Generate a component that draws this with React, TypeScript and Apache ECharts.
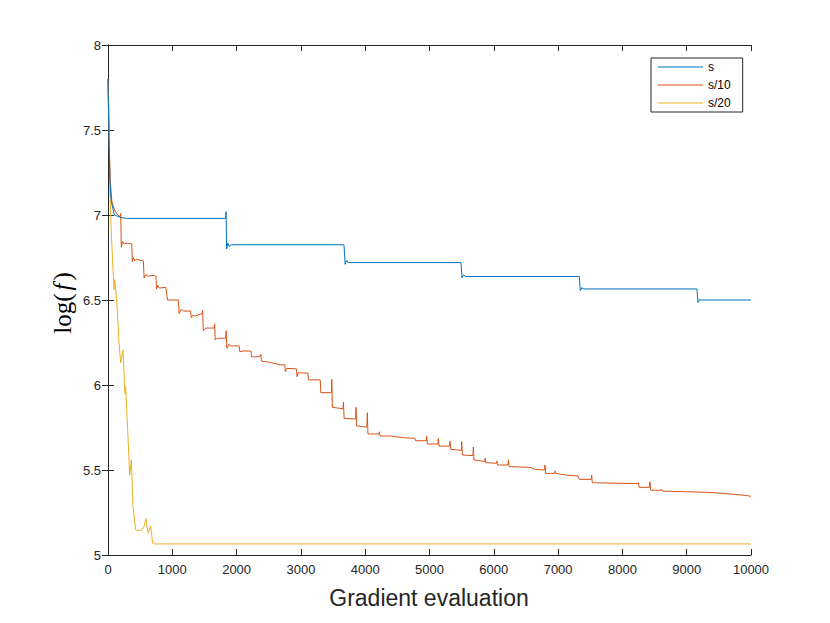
import React, { useEffect, useRef } from "react";
import * as echarts from "echarts";

const seriesNames = ["s", "s/10", "s/20"];
const colors = ["#0072BD", "#D95319", "#EDB120"];

const xTicks = { min: 0, max: 10000, interval: 1000 };
const yTicks = { min: 5, max: 8, interval: 0.5 };

const sData: number[][] = [
  [0, 7.8], [15, 7.45], [30, 7.2], [50, 7.08], [100, 7.0], [200, 6.985], [300, 6.98],
  [1830, 6.98], [1836, 7.02], [1845, 6.8], [1865, 6.835], [1885, 6.815], [1915, 6.825],
  [3670, 6.825], [3688, 6.71], [3710, 6.735], [3735, 6.72], [5490, 6.72], [5505, 6.63],
  [5530, 6.648], [5560, 6.638], [7330, 6.638], [7345, 6.555], [7370, 6.572], [7400, 6.565],
  [9160, 6.565], [9175, 6.485], [9200, 6.503], [9230, 6.5], [10000, 6.5],
];

const s10Data: number[][] = [
  [0, 7.8], [15, 7.45], [35, 7.2], [60, 7.08], [100, 7.03], [150, 7.0], [190, 6.99],
  [198, 7.01], [207, 6.81], [225, 6.845], [250, 6.83], [300, 6.835], [370, 6.83],
  [378, 6.725], [395, 6.75], [415, 6.73], [440, 6.74], [550, 6.73], [562, 6.63],
  [590, 6.65], [620, 6.64], [700, 6.645], [745, 6.64], [755, 6.565], [775, 6.585],
  [800, 6.57], [900, 6.575], [925, 6.5], [1095, 6.5], [1105, 6.42], [1140, 6.445],
  [1180, 6.435], [1285, 6.435], [1296, 6.395], [1320, 6.41], [1350, 6.405], [1465, 6.42],
  [1472, 6.44], [1482, 6.32], [1520, 6.335], [1650, 6.335], [1658, 6.36], [1668, 6.265],
  [1700, 6.275], [1830, 6.275], [1838, 6.32], [1848, 6.216], [1880, 6.24], [1910, 6.23],
  [2040, 6.23], [2050, 6.196], [2100, 6.2], [2225, 6.2], [2232, 6.166], [2300, 6.165],
  [2370, 6.17], [2378, 6.18], [2385, 6.14], [2500, 6.135], [2680, 6.118], [2750, 6.12],
  [2758, 6.078], [2780, 6.098], [2930, 6.095], [2940, 6.049], [2960, 6.072], [3110, 6.07],
  [3118, 6.03], [3300, 6.03], [3310, 5.955], [3475, 5.955], [3480, 6.033], [3490, 5.869],
  [3655, 5.86], [3662, 5.9], [3672, 5.804], [3850, 5.8], [3857, 5.869], [3867, 5.759],
  [4025, 5.752], [4033, 5.837], [4043, 5.712], [4215, 5.712], [4222, 5.725], [4232, 5.7],
  [4390, 5.7], [4595, 5.69], [4775, 5.686], [4785, 5.672], [4950, 5.672], [4956, 5.7],
  [4966, 5.653], [5130, 5.653], [5137, 5.685], [5147, 5.641], [5310, 5.64], [5319, 5.67],
  [5330, 5.622], [5495, 5.615], [5500, 5.667], [5512, 5.588], [5676, 5.585], [5682, 5.635],
  [5692, 5.559], [5860, 5.55], [5866, 5.57], [5875, 5.543], [6040, 5.54], [6048, 5.553],
  [6058, 5.529], [6222, 5.53], [6228, 5.56], [6238, 5.52], [6580, 5.515], [6620, 5.505],
  [6790, 5.5], [6796, 5.53], [6806, 5.48], [6950, 5.48], [6955, 5.495], [6965, 5.48],
  [7130, 5.47], [7310, 5.465], [7330, 5.445], [7515, 5.445], [7522, 5.47], [7532, 5.425],
  [8240, 5.42], [8247, 5.425], [8260, 5.398], [8420, 5.398], [8429, 5.43], [8440, 5.382],
  [8605, 5.38], [8611, 5.385], [8620, 5.376], [9000, 5.372], [9300, 5.369], [9500, 5.364],
  [9700, 5.358], [9930, 5.35], [10000, 5.345],
];

const s20Data: number[][] = [
  [0, 7.79], [16, 7.62], [31, 7.13], [52, 6.89], [93, 6.56], [104, 6.62], [135, 6.5],
  [171, 6.25], [197, 6.13], [233, 6.206], [264, 5.95], [275, 5.99], [311, 5.696],
  [337, 5.47], [363, 5.559], [389, 5.284], [430, 5.147], [508, 5.143], [560, 5.167],
  [591, 5.216], [622, 5.128], [664, 5.17], [695, 5.069], [720, 5.065], [10000, 5.065],
];

const allData = [sData, s10Data, s20Data];

export default function App() {
  const ref = useRef<HTMLDivElement>(null);
  useEffect(() => {
    if (!ref.current) return;
    const chart = echarts.init(ref.current, undefined, { renderer: "svg" });
    const axisColor = "#262626";
    const font = "Liberation Sans";
    const grid = { left: 108, top: 45, width: 643, height: 510 };
    const xBase = {
      type: "value" as const,
      min: xTicks.min,
      max: xTicks.max,
      interval: xTicks.interval,
      axisLine: { show: true, lineStyle: { color: axisColor, width: 1 } },
      axisTick: { show: true, inside: true, length: 6, lineStyle: { color: axisColor } },
      splitLine: { show: false },
    };
    const yBase = {
      type: "value" as const,
      min: yTicks.min,
      max: yTicks.max,
      interval: yTicks.interval,
      axisLine: { show: true, lineStyle: { color: axisColor, width: 1 } },
      axisTick: { show: true, inside: true, length: 6, lineStyle: { color: axisColor } },
      splitLine: { show: false },
    };
    chart.setOption({
      animation: false,
      backgroundColor: "#ffffff",
      grid,
      xAxis: [
        {
          ...xBase,
          position: "bottom",
          axisLabel: {
            color: axisColor,
            fontSize: 13,
            fontFamily: font,
            margin: 8,
            formatter: (v: number) => String(v),
          },
        },
        { ...xBase, position: "top", axisLabel: { show: false } },
      ],
      yAxis: [
        {
          ...yBase,
          position: "left",
          axisLabel: {
            color: axisColor,
            fontSize: 13,
            fontFamily: font,
            margin: 7,
            formatter: (v: number) => String(v),
          },
        },
        { ...yBase, position: "right", axisLabel: { show: false } },
      ],
      legend: {
        orient: "vertical",
        left: 651,
        top: 58,
        icon: "rect",
        itemWidth: 45,
        itemHeight: 1,
        itemGap: 6,
        padding: [3, 12, 3, 7],
        borderColor: axisColor,
        borderWidth: 1,
        backgroundColor: "#ffffff",
        textStyle: { color: "#000000", fontSize: 12, lineHeight: 12, fontFamily: font },
        data: seriesNames,
      },
      series: allData.map((d, i) => ({
        name: seriesNames[i],
        type: "line",
        data: d,
        xAxisIndex: 0,
        yAxisIndex: 0,
        symbol: "none",
        showSymbol: false,
        lineStyle: { color: colors[i], width: 1 },
        itemStyle: { color: colors[i] },
        z: 3 - i,
      })),
      graphic: [
        {
          type: "text",
          x: 429,
          y: 598,
          style: {
            text: "Gradient evaluation",
            fill: axisColor,
            fontSize: 23,
            fontFamily: font,
            align: "center",
            verticalAlign: "middle",
          },
        },
        {
          type: "text",
          x: 62,
          y: 303,
          rotation: Math.PI / 2,
          style: {
            text: "{a|log}{a|(}{b|f}{a|)}",
            align: "center",
            verticalAlign: "middle",
            rich: {
              a: { fontSize: 25, fontFamily: "Liberation Serif", fill: "#000000" },
              b: { fontSize: 25, fontFamily: "Liberation Serif", fontStyle: "italic", fill: "#000000", padding: [0, 3, 0, 3] },
            },
          },
        },
      ],
    });
    return () => chart.dispose();
  }, []);
  return (
    <div
      ref={ref}
      style={{ position: "fixed", left: 0, top: 0, width: 830, height: 623, background: "#fff" }}
    />
  );
}
